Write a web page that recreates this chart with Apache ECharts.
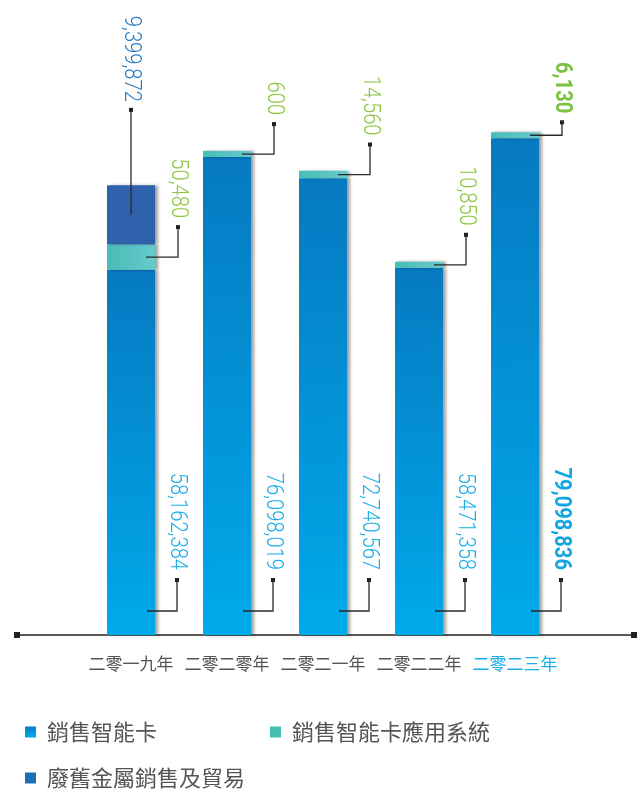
<!DOCTYPE html>
<html><head><meta charset="utf-8">
<script src="https://cdn.jsdelivr.net/npm/echarts@6/dist/echarts.min.js"></script>
<style>html,body{margin:0;padding:0;background:#fff}#c{width:639px;height:792px}</style>
</head><body><div id="c"></div>
<script>
const categories = ['二零一九年', '二零二零年', '二零二一年', '二零二二年', '二零二三年'];
const smartCardSales = [58162384, 76098019, 72740567, 58471358, 79098836];
const systemSales = [50480, 600, 14560, 10850, 6130];
const scrapMetalSales = [9399872, 0, 0, 0, 0];
const seriesNames = ['銷售智能卡', '銷售智能卡應用系統', '廢舊金屬銷售及貿易'];

// styling constants
const GREEN_EXAG = 80, GREEN_MIN = 6;
const greenLeaderLen = [30, 30, 30, 30, 13];
const highlightIdx = 4;
const fmt = v => v.toLocaleString('en-US');
function greenH(api, v) { return Math.max(api.size([0, v])[1] * GREEN_EXAG, GREEN_MIN); }

const G = echarts.graphic;
const blueGrad = new G.LinearGradient(0, 0, 0.15, 1, [{offset: 0, color: '#0679c2'}, {offset: 1, color: '#00aae9'}]);
const greenGrad = new G.LinearGradient(0, 0, 1, 0, [{offset: 0, color: '#47bdb6'}, {offset: 1, color: '#66cacd'}]);
const shadow = {shadowColor: 'rgba(0,0,0,0.38)', shadowBlur: 3, shadowOffsetX: 3};

function vText(x, y, text, color, bold) {
  return {
    type: 'text', x: x, y: y, rotation: -Math.PI / 2, scaleX: 0.84,
    style: {text: text, x: 0, y: 0, align: 'right', verticalAlign: 'middle', fill: color,
      fontSize: 24, fontFamily: 'Roboto', fontWeight: bold ? 'bold' : 300}
  };
}
function leader(points, dot) {
  return [
    {type: 'polyline', shape: {points: points}, style: {stroke: '#2a2a2a', lineWidth: 1.3, fill: null}},
    {type: 'rect', shape: {x: dot[0] - 2, y: dot[1] - 2, width: 4, height: 4}, style: {fill: '#222'}}
  ];
}

const chart = echarts.init(document.getElementById('c'));
chart.setOption({
  animation: false,
  grid: {left: 83, right: 76, top: 7, bottom: 157},
  xAxis: {
    type: 'category', data: categories,
    axisLine: {show: false}, axisTick: {show: false},
    axisLabel: {
      interval: 0,
      fontSize: 17, color: '#555', fontFamily: 'Noto Sans CJK TC', margin: 20,
      formatter: (v, i) => i === highlightIdx ? '{hl|' + v + '}' : v,
      rich: {hl: {color: '#19aee8', fontSize: 17, fontFamily: 'Noto Sans CJK TC'}}
    }
  },
  yAxis: {type: 'value', min: 0, max: 100000000, show: false},
  legend: [
    {data: [seriesNames[0]], left: 20, top: 716},
    {data: [seriesNames[1]], left: 265, top: 716},
    {data: [seriesNames[2]], left: 20, top: 762}
  ].map(l => Object.assign(l, {
    icon: 'rect', itemWidth: 11, itemHeight: 11, selectedMode: false,
    textStyle: {fontSize: 22, color: '#555', fontFamily: 'Noto Sans CJK TC', padding: [0, 0, 0, 6]}
  })),
  graphic: [
    {type: 'line', shape: {x1: 17, y1: 635, x2: 634, y2: 635}, style: {stroke: '#222', lineWidth: 1.5}, z: 0},
    {type: 'rect', shape: {x: 14, y: 632, width: 6, height: 6}, style: {fill: '#222'}, z: 0},
    {type: 'rect', shape: {x: 631, y: 632, width: 6, height: 6}, style: {fill: '#222'}, z: 0}
  ],
  series: [
    {
      name: seriesNames[0], type: 'bar', data: smartCardSales, barWidth: 48, z: 2,
      itemStyle: Object.assign({color: blueGrad}, shadow)
    },
    {
      name: seriesNames[1], type: 'custom', z: 3,
      itemStyle: {color: '#45bfb0'},
      data: categories.map((c, i) => [i, smartCardSales[i], systemSales[i]]),
      encode: {x: 0, y: 1},
      renderItem: (params, api) => {
        const p = api.coord([api.value(0), api.value(1)]);
        const w = api.size([1, 0])[0] * 0.5;
        const h = greenH(api, api.value(2));
        return {type: 'rect', shape: {x: p[0] - w / 2, y: p[1] - h, width: w, height: h},
          style: Object.assign({fill: greenGrad}, shadow)};
      }
    },
    {
      name: seriesNames[2], type: 'custom', z: 3,
      itemStyle: {color: '#1c70b8'},
      data: categories.map((c, i) => [i, smartCardSales[i], systemSales[i], scrapMetalSales[i]]),
      encode: {x: 0, y: 1},
      renderItem: (params, api) => {
        const v = api.value(3);
        if (!v) return null;
        const p = api.coord([api.value(0), api.value(1)]);
        const w = api.size([1, 0])[0] * 0.5;
        const base = p[1] - greenH(api, api.value(2));
        const h = api.size([0, v])[1];
        return {type: 'rect', shape: {x: p[0] - w / 2, y: base - h, width: w, height: h},
          style: Object.assign({fill: '#2e62ad'}, shadow)};
      }
    },
    {
      name: 'labels', type: 'custom', z: 10, silent: true,
      data: categories.map((c, i) => [i, smartCardSales[i], systemSales[i], scrapMetalSales[i]]),
      encode: {x: 0, y: 1},
      renderItem: (params, api) => {
        const i = api.value(0);
        const hl = i === highlightIdx;
        const p0 = api.coord([i, 0]);
        const cx = p0[0], y0 = p0[1];
        const pb = api.coord([i, api.value(1)]);
        const gh = greenH(api, api.value(2));
        const ch = [];
        // blue
        const by = y0 - 24, bx2 = cx + 46;
        ch.push(...leader([[cx + 16, by], [bx2, by], [bx2, by - 31]], [bx2, by - 31]));
        ch.push(vText(bx2, by - 41, fmt(api.value(1)), hl ? '#12a6e2' : '#1aaee8', hl));
        // green
        const gy = pb[1] - gh / 2, gx2 = cx + 47, gl = greenLeaderLen[i];
        ch.push(...leader([[cx + 15, gy], [gx2, gy], [gx2, gy - gl]], [gx2, gy - gl]));
        ch.push(vText(gx2, gy - gl - 9, fmt(api.value(2)), hl ? '#7cc142' : '#8cc63f', hl));
        // dark blue
        const m = api.value(3);
        if (m) {
          const mh = api.size([0, m])[1];
          const my = pb[1] - gh - mh / 2;
          ch.push(...leader([[cx, my], [cx, my - 105]], [cx, my - 105]));
          ch.push(vText(cx, my - 113, fmt(m), '#2a7dc2', false));
        }
        return {type: 'group', children: ch};
      }
    }
  ]
});
</script></body></html>
